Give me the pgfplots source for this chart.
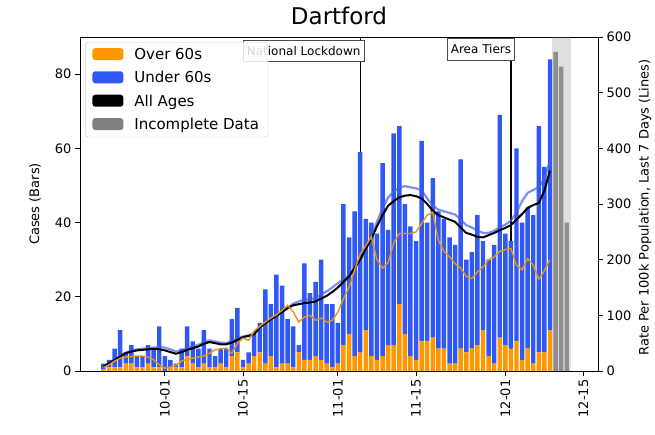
\documentclass[border=0pt]{standalone}
\usepackage{fontspec}
\setmainfont{DejaVu Sans}
\usepackage{pgfplots}
\usepackage{pgfplotstable}
\pgfplotsset{compat=1.18}

\definecolor{ovr}{RGB}{255,152,0}
\definecolor{und}{RGB}{48,88,245}
\definecolor{ovrline}{RGB}{232,148,18}
\definecolor{undline}{RGB}{70,95,235}
\definecolor{incomp}{RGB}{128,128,128}

% daily cases, day 0 = 1 Oct
\pgfplotstableread{
d over under grey
-11 0.5 1.5 0
-10 1 2 0
-9 1 5 0
-8 1 10 0
-7 2 3 0
-6 2 5 0
-5 1 3 0
-4 1 3 0
-3 2 5 0
-2 1 5 0
-1 1 11 0
0 0 4 0
1 1 2 0
2 1 1 0
3 1 5 0
4 4 8 0
5 2 6 0
6 1 5 0
7 2 9 0
8 1 5 0
9 1 3 0
10 2 4 0
11 1 5 0
12 4 10 0
13 5 12 0
14 1 2 0
15 2 3 0
16 4 6 0
17 5 8 0
18 2 20 0
19 4 14 0
20 1 25 0
21 2 21 0
22 2 12 0
23 1 11 0
24 5 2 0
25 3 26 0
26 3 18 0
27 4 20 0
28 3 27 0
29 2 16 0
30 1 17 0
31 2 11 0
32 7 38 0
33 10 26 0
34 4 39 0
35 5 54 0
36 11 30 0
37 4 36 0
38 3 34 0
39 4 52 0
40 7 31 0
41 7 57 0
42 18 48 0
43 10 35 0
44 4 35 0
45 3 32 0
46 8 54 0
47 8 32 0
48 9 43 0
49 6 37 0
50 6 35 0
51 2 34 0
52 2 32 0
53 6 51 0
54 5 25 0
55 6 26 0
56 7 35 0
57 11 24 0
58 4 26 0
59 2 32 0
60 9 60 0
61 7 30 0
62 6 29 0
63 8 52 0
64 3 37 0
65 6 38 0
66 2 40 0
67 5 61 0
68 5 50 0
69 11 73 0
70 0 0 86
71 0 0 82
72 0 0 40
}\bars

% 7-day rates per 100k
\pgfplotstableread{
d all under over
-11 8 8 6
-10 14 14 11
-9 20 20 18
-8 26 27 23
-7 32 33 25
-6 35 37 26
-5 37 39 27
-4 38 40 27
-3 39 41 25
-2 40 42 20
-1 39 43 11
0 37 42 5
1 34 39 7
2 31 35 10
3 34 37 18
4 38 41 21
5 41 44 23
6 44 47 25
7 49 52 27
8 52 55 32
9 50 53 38
10 48 51 40
11 48 50 41
12 51 54 32
13 56 58 50
14 61 62 59
15 63 64 55
16 66 67 72
17 78 79 80
18 86 86 88
19 93 93 95
20 99 99 101
21 106 106 109
22 113 113 118
23 118 121 106
24 120 125 88
25 122 128 97
26 123 129 100
27 125 131 91
28 130 137 95
29 135 143 88
30 142 150 91
31 150 158 106
32 160 165 130
33 170 172 150
34 185 185 181
35 200 198 210
36 220 220 225
37 237 241 241
38 260 268 200
39 280 292 185
40 297 312 195
41 305 322 230
42 312 330 247
43 315 332 247
44 316 330 247
45 314 328 250
46 310 325 265
47 300 310 280
48 288 297 285
49 280 290 235
50 276 287 215
51 272 284 205
52 268 281 193
53 258 272 185
54 248 262 170
55 245 258 166
56 241 252 178
57 240 248 187
58 244 248 200
59 248 252 205
60 253 258 215
61 257 263 218
62 262 270 220
63 272 285 190
64 282 305 182
65 293 320 202
66 298 325 190
67 302 331 165
68 324 345 180
69 360 378 200
}\rates

\pgfplotsset{
  common/.style={
    width=518pt, height=334pt, scale only axis,
    xmin=-15.2, xmax=77.6,
    axis line style={line width=0.9pt},
    tick style={line width=0.9pt, black},
    tick align=outside, major tick length=5pt,
    /pgf/number format/assume math mode=true,
    tick label style={font=\fontsize{13}{15}\selectfont},
    label style={font=\fontsize{13}{15}\selectfont},
  },
  patch/.style={legend image code/.code={\fill[fill=#1, draw=none, fill opacity=1] (0pt,-5.5pt) rectangle (31pt,6.5pt);}},
}

\begin{document}
\begin{tikzpicture}
\begin{axis}[common, name=bars,
  ymin=0, ymax=90, ytick={0,20,40,60,80},
  axis y line*=left, xtick pos=left,
  xtick={0,14,31,45,61,75},
  xticklabels={10-01,10-15,11-01,11-15,12-01,12-15},
  xticklabel style={rotate=90, anchor=east},
  ylabel={Cases (Bars)},
  ylabel style={at={(axis description cs:-0.087,0.5)}, anchor=center},
  title={Dartford},
  title style={font=\fontsize{23}{26}\selectfont, at={(axis description cs:0.5,1)}, anchor=base, yshift=6pt},
  ybar stacked, bar width=0.8,
]
\addplot[fill=ovr, draw=none] table[x=d, y=over] {\bars};
\addplot[fill=und, draw=none] table[x=d, y=under] {\bars};
\addplot[fill=incomp, draw=none, fill opacity=0.85] table[x=d, y=grey] {\bars};

\fill[gray, opacity=0.25] (axis cs:69.3,0) rectangle (axis cs:72.8,90);

\node[draw=black!70, fill=white, anchor=north east, inner xsep=3.5pt, inner ysep=6pt,
  font=\fontsize{12}{14}\selectfont] at (axis cs:35.7,89.2) {National Lockdown};
\node[draw=black!70, fill=white, anchor=north east, inner xsep=3.5pt, inner ysep=6pt,
  font=\fontsize{12}{14}\selectfont] at (axis cs:62.7,89.6) {Area Tiers};

\draw[black, line width=1.4pt] (axis cs:35,0) -- (axis cs:35,90);
\draw[black, line width=1.4pt] (axis cs:62,0) -- (axis cs:62,90);
\end{axis}

\begin{axis}[common,
  ymin=0, ymax=600, ytick={0,100,...,600},
  axis y line*=right, axis x line=none,
  ylabel={Rate Per 100k Population, Last 7 Days (Lines)},
  ylabel style={at={(axis description cs:1.091,0.49)}, anchor=center},
  legend cell align=left,
  legend style={at={(axis description cs:0.01,0.985)}, anchor=north west,
    font=\fontsize{15}{17}\selectfont, fill=white, fill opacity=0.85, text opacity=1,
    draw=black!20, rounded corners=3pt, inner xsep=7pt, inner ysep=4pt,
    row sep=6.5pt, /tikz/every odd column/.append style={column sep=9pt}},
]
\addlegendimage{patch=ovr}
\addlegendimage{patch=und}
\addlegendimage{patch=black}
\addlegendimage{patch=incomp}
\legend{Over 60s, Under 60s, All Ages, Incomplete Data}

\addplot[undline, line width=2.2pt, opacity=0.7, forget plot] table[x=d, y=under] {\rates};
\addplot[black, line width=2pt, forget plot] table[x=d, y=all] {\rates};
\addplot[ovrline, line width=1.4pt, forget plot] table[x=d, y=over] {\rates};
\end{axis}

\pgfresetboundingbox
\path ([xshift=-80pt, yshift=-63pt]bars.south west) rectangle ([xshift=57pt, yshift=37pt]bars.north east);
\end{tikzpicture}
\end{document}
